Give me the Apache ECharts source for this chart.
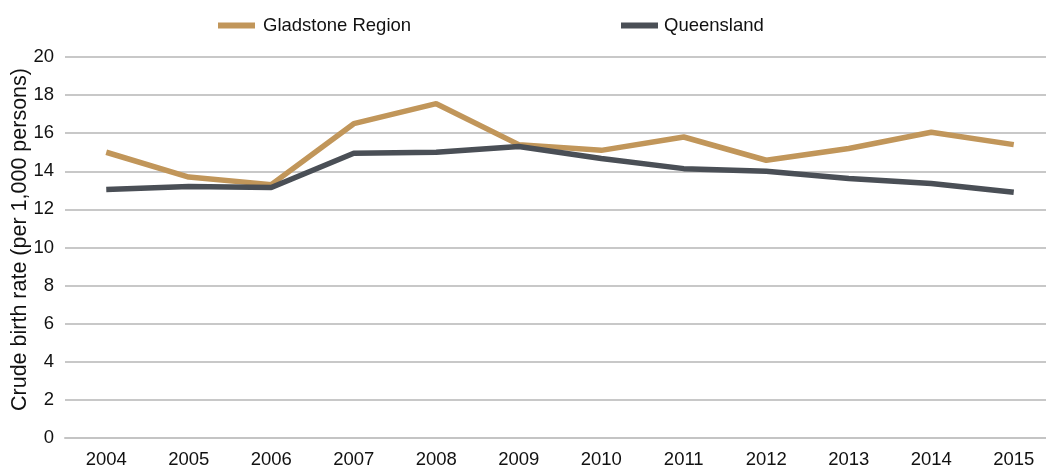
<!DOCTYPE html>
<html>
<head>
<meta charset="utf-8">
<script src="https://cdn.jsdelivr.net/npm/echarts@6/dist/echarts.min.js"></script>
<style>
  html, body { margin: 0; padding: 0; background: #fff; }
  #chart { width: 1046px; height: 473px; }
</style>
</head>
<body>
<div id="chart"></div>
<script>
// years on the x axis
var years = ['2004', '2005', '2006', '2007', '2008', '2009', '2010', '2011', '2012', '2013', '2014', '2015'];
// crude birth rate, per 1,000 persons
var gladstone = [15.0, 13.7, 13.3, 16.5, 17.55, 15.4, 15.1, 15.8, 14.58, 15.2, 16.05, 15.4];
var queensland = [13.05, 13.2, 13.15, 14.95, 15.0, 15.3, 14.67, 14.14, 14.0, 13.62, 13.36, 12.9];

var gold = '#c1965a';
var slate = '#4a4f56';

var myChart = echarts.init(document.getElementById('chart'));
var option = {
  animation: false,
  textStyle: { fontFamily: 'Liberation Sans, Arial, sans-serif' },
  legend: [
    {
      left: 213, top: 11,
      itemWidth: 37, itemHeight: 6,
      icon: 'rect',
      textStyle: { fontSize: 18.5, color: '#111', padding: [0, 0, 0, 3] },
      data: ['Gladstone Region']
    },
    {
      left: 616, top: 11,
      itemWidth: 37, itemHeight: 6,
      icon: 'rect',
      textStyle: { fontSize: 18.5, color: '#111', padding: [0, 0, 0, 1] },
      data: ['Queensland']
    }
  ],
  // the plot runs a little past the right edge of the picture
  grid: { left: 65, right: -9, top: 57, bottom: 35, outerBoundsMode: 'none', containLabel: false },
  xAxis: {
    type: 'category',
    data: years,
    boundaryGap: true,
    axisLine: { lineStyle: { color: '#c4c4c4', width: 2 } },
    axisTick: { alignWithLabel: true, length: 9, lineStyle: { color: '#c4c4c4', width: 2 } },
    axisLabel: { fontSize: 18.5, color: '#111', margin: 12 }
  },
  yAxis: {
    type: 'value',
    min: 0, max: 20, interval: 2,
    name: 'Crude birth rate (per 1,000 persons)',
    nameLocation: 'middle',
    nameGap: 34,
    nameMoveOverlap: false,
    // left padding nudges the rotated title a little upwards
    nameTextStyle: { fontSize: 21.5, color: '#111', padding: [0, 0, 0, 16] },
    axisLine: { show: false },
    axisTick: { show: false },
    axisLabel: { fontSize: 18.5, color: '#111', margin: 11 },
    splitLine: { lineStyle: { color: '#c8c8c8', width: 2 } }
  },
  series: [
    {
      name: 'Gladstone Region',
      type: 'line',
      data: gladstone,
      symbol: 'none',
      color: gold,
      lineStyle: { width: 5.5, color: gold }
    },
    {
      name: 'Queensland',
      type: 'line',
      data: queensland,
      symbol: 'none',
      color: slate,
      lineStyle: { width: 5.5, color: slate }
    }
  ]
};
option && myChart.setOption(option);
</script>
</body>
</html>
